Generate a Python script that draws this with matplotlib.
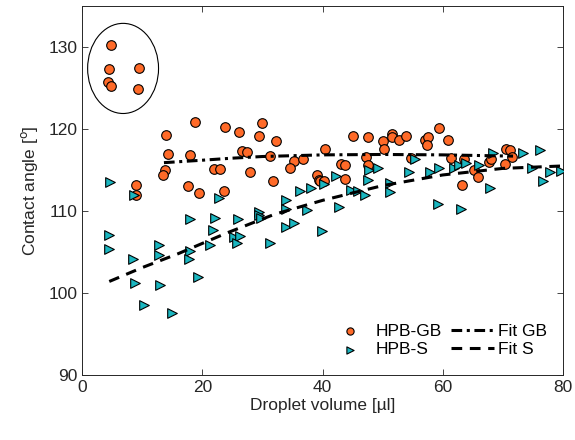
import matplotlib
matplotlib.use("Agg")
import matplotlib.pyplot as plt
from matplotlib.patches import Ellipse

# HPB-GB droplets (circles)
gb_x = [4.8, 4.5, 9.4, 4.3, 4.8, 9.3,
        18.7, 14.0, 23.7, 26.1, 30.0, 29.4, 32.3,
        14.2, 18.0, 26.6, 27.4, 31.3, 40.4, 35.2, 36.8, 34.6,
        22.0, 23.0, 27.9, 13.8, 13.5, 31.7, 39.1, 39.4,
        9.0, 17.6, 19.4, 23.6, 8.9,
        45.1, 47.6, 50.0, 50.2, 51.5, 51.5, 52.7, 53.9,
        57.1, 57.6, 57.3, 59.4, 60.8,
        47.3, 47.6, 43.0, 43.7, 39.6, 40.2, 43.8,
        54.7, 61.4, 63.6, 65.2, 65.8, 63.2, 67.7, 68.1, 70.4, 70.6, 71.2, 71.5]
gb_y = [130.2, 127.3, 127.5, 125.8, 125.3, 124.9,
        120.9, 119.3, 120.3, 119.6, 120.8, 119.2, 118.5,
        117.0, 116.8, 117.3, 117.2, 116.7, 117.6, 116.1, 116.3, 115.2,
        115.1, 115.1, 114.8, 115.0, 114.4, 113.7, 114.4, 113.8,
        113.2, 113.0, 112.2, 112.4, 111.9,
        119.1, 119.0, 118.5, 117.6, 119.4, 119.0, 118.7, 119.2,
        118.7, 119.0, 118.0, 120.1, 118.7,
        116.6, 115.6, 115.7, 115.6, 113.7, 113.7, 113.9,
        116.5, 116.5, 116.3, 115.0, 114.1, 113.2, 116.0, 116.3, 115.7, 117.6, 117.5, 116.6]

# HPB-S droplets (triangles)
s_x = [4.6, 4.4, 4.4, 8.6, 8.4, 8.7, 10.2,
       12.8, 12.8, 12.9, 14.9, 17.9, 18.0, 17.8, 19.3,
       22.1, 21.7, 21.3, 22.8, 26.0, 25.2, 26.2, 25.8,
       29.5, 29.5, 29.8, 31.2, 33.9, 33.9, 33.9, 35.2,
       36.2, 37.4, 38.0, 39.9, 40.3,
       42.3, 42.8, 44.8, 45.9, 47.1, 51.3, 51.2,
       47.8, 49.2, 47.6, 54.3, 55.4, 57.9, 59.3, 61.8, 62.7, 63.9, 66.1,
       59.2, 63.1, 67.8, 68.4, 73.3, 76.2, 74.9, 77.9, 79.6, 76.7]
s_y = [113.6, 107.1, 105.4, 112.0, 104.2, 101.2, 98.5,
       105.9, 104.6, 101.0, 97.6, 109.0, 105.1, 104.2, 102.0,
       109.1, 107.7, 105.8, 111.6, 109.0, 106.8, 106.9, 106.1,
       109.9, 109.5, 109.2, 106.1, 111.3, 110.3, 108.1, 108.5,
       112.4, 110.1, 112.8, 107.6, 113.3,
       114.3, 110.5, 112.6, 112.4, 112.0, 113.4, 112.3,
       115.0, 115.2, 113.8, 114.7, 116.4, 114.7, 115.3, 115.2, 115.6, 115.8, 115.6,
       110.8, 110.3, 112.8, 117.1, 117.1, 117.4, 115.3, 114.8, 114.9, 113.7]

# fit curves
fit_gb_x = [13.6, 20, 25, 30, 40, 50, 60, 71.7]
fit_gb_y = [115.9, 116.2, 116.45, 116.65, 116.85, 116.9, 116.85, 116.7]
fit_s_x = [4.5, 10, 16, 24, 32, 40, 50, 60, 70, 80]
fit_s_y = [101.4, 103.1, 104.8, 107.3, 109.6, 111.3, 113.1, 114.4, 115.2, 115.5]

plt.rcParams["font.family"] = ["Liberation Sans", "DejaVu Sans"]

fig = plt.figure(figsize=(5.75, 4.4), dpi=100)
ax = fig.add_axes([0.143, 0.148, 0.836, 0.838])

ax.scatter(gb_x, gb_y, s=48, marker="o", facecolor="#ff6a28",
           edgecolor="black", linewidth=0.8, label="HPB-GB", zorder=3)
ax.scatter(s_x, s_y, s=48, marker=">", facecolor="#1ab6c0",
           edgecolor="black", linewidth=0.8, label="HPB-S", zorder=3)
ax.plot(fit_gb_x, fit_gb_y, color="black", lw=2.2, linestyle=(0, (3.5, 1.5, 1, 1.5)),
        label="Fit GB", zorder=4)
ax.plot(fit_s_x, fit_s_y, color="black", lw=2.2, linestyle=(0, (3.5, 2.5)),
        label="Fit S", zorder=4)

ax.add_patch(Ellipse((6.8, 127.4), 11.8, 11.0, fill=False, edgecolor="black", lw=0.8))

ax.set_xlim(0, 80)
ax.set_ylim(90, 135)
ax.set_xticks([0, 20, 40, 60, 80])
ax.set_yticks([90, 100, 110, 120, 130])
ax.tick_params(direction="in", top=True, right=True, labelsize=12.5, length=4,
               width=0.6, colors="#262626")
for sp in ax.spines.values():
    sp.set_linewidth(0.7)
    sp.set_color("#262626")

ax.set_xlabel("Droplet volume [µl]", fontsize=12.5, color="#262626", labelpad=2)
ax.set_ylabel("Contact angle [$^{\\rm o}$]", fontsize=12.5, color="#262626", labelpad=6)

ax.legend(loc="lower right", ncol=2, frameon=False, fontsize=12.5,
          handlelength=2.5, handletextpad=0.25, columnspacing=0.5,
          labelspacing=0.2, bbox_to_anchor=(1.0, 0.005), markerscale=0.75)

fig.savefig("out.png", dpi=100)
